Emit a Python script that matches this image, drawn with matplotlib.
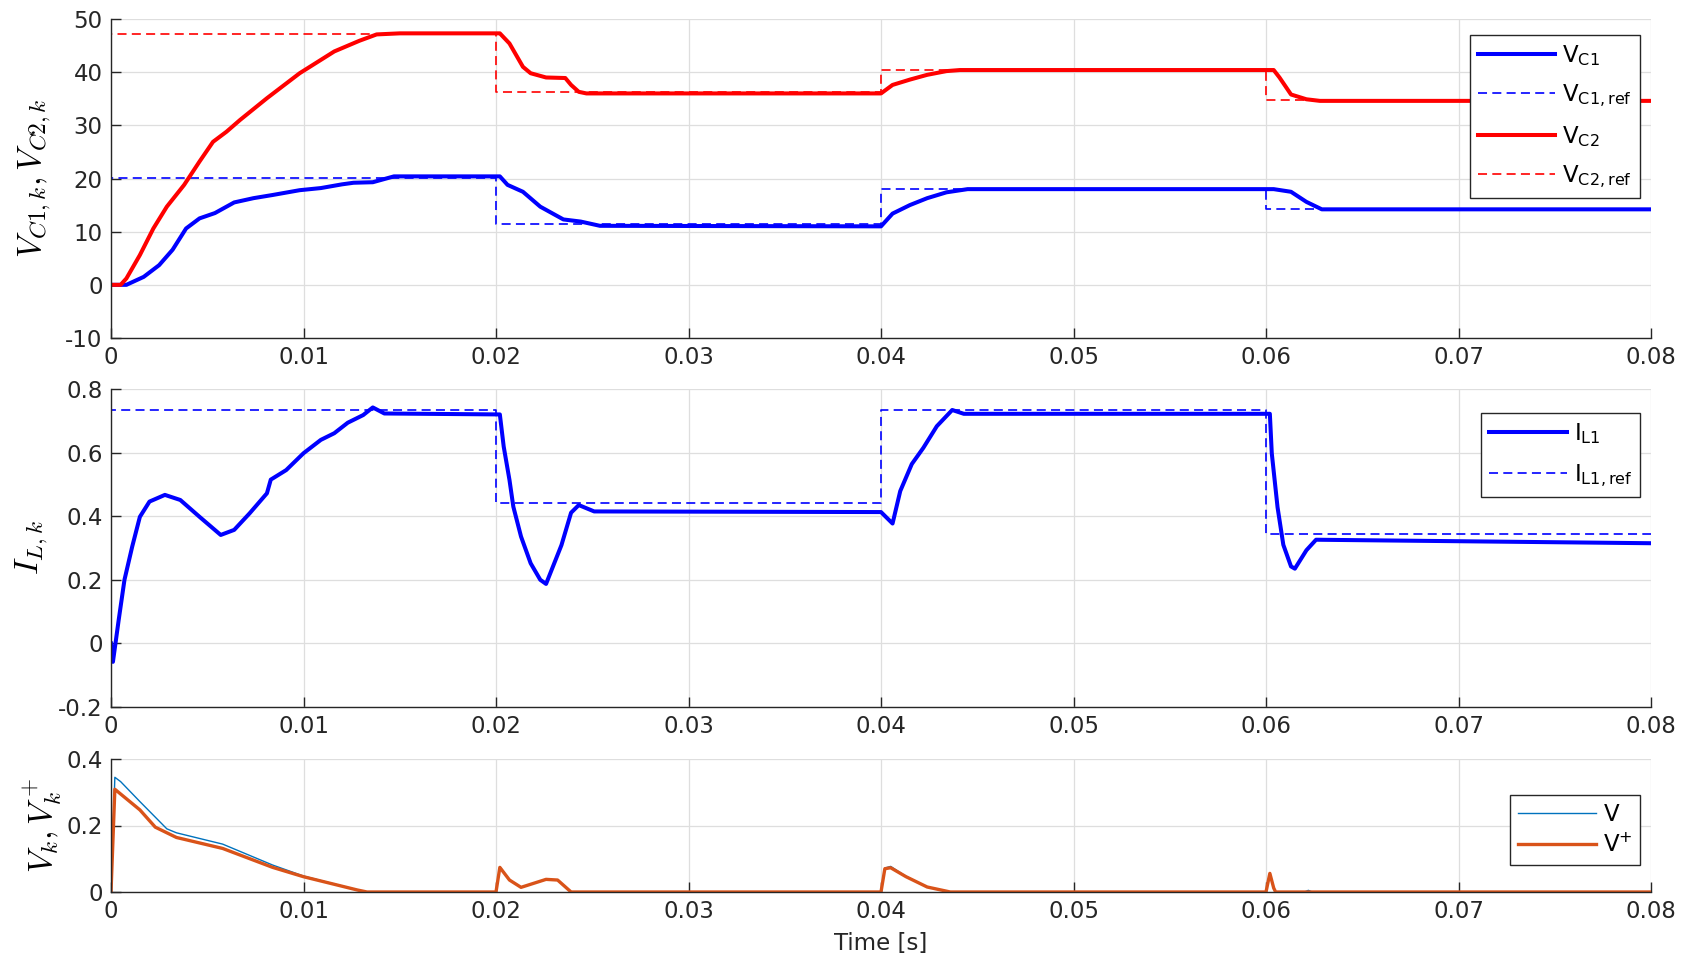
import matplotlib.pyplot as plt

# ---- top panel: capacitor voltages ----
t_vc1 = [0, 0.0008, 0.0017, 0.0025, 0.0032, 0.0039, 0.0046, 0.0054, 0.0064, 0.0074,
         0.0084, 0.0098, 0.0109, 0.0120, 0.0126, 0.0136, 0.0147, 0.0202, 0.0206, 0.0214,
         0.0223, 0.0235, 0.0244, 0.0254, 0.0400, 0.0406, 0.0415, 0.0424, 0.0434, 0.0445,
         0.0604, 0.0613, 0.0621, 0.0629, 0.08]
vc1 = [0, 0.0, 1.5, 3.7, 6.6, 10.6, 12.5, 13.5, 15.5, 16.3,
       16.9, 17.8, 18.2, 18.9, 19.2, 19.3, 20.4, 20.4, 18.8, 17.5,
       14.7, 12.3, 11.9, 11.1, 11.0, 13.4, 15.0, 16.3, 17.4, 18.0,
       18.0, 17.5, 15.6, 14.2, 14.2]

t_vc2 = [0, 0.0005, 0.0008, 0.0015, 0.0022, 0.0029, 0.0038, 0.0046, 0.0053, 0.0060,
         0.0067, 0.0081, 0.0098, 0.0116, 0.0129, 0.0138, 0.0150, 0.0202, 0.0207, 0.0214,
         0.0218, 0.0226, 0.0236, 0.0239, 0.0243, 0.0247, 0.0400, 0.0406, 0.0415, 0.0424,
         0.0434, 0.0441, 0.0604, 0.0607, 0.0613, 0.0621, 0.0628, 0.08]
vc2 = [0, 0, 1.2, 5.6, 10.6, 14.7, 18.8, 23.2, 26.9, 28.8,
       31.0, 35.1, 39.8, 43.9, 45.9, 47.1, 47.3, 47.3, 45.4, 41.0,
       39.8, 39.0, 38.9, 37.6, 36.3, 36.0, 36.0, 37.6, 38.6, 39.5,
       40.2, 40.4, 40.4, 39.0, 35.8, 34.9, 34.6, 34.6]

ref_t = [0, 0.02, 0.04, 0.06, 0.08]
vc1_ref = [20.1, 11.4, 18.0, 14.3]
vc2_ref = [47.1, 36.2, 40.5, 34.7]

# ---- middle panel: inductor current ----
t_il = [0, 0.0001, 0.0004, 0.0007, 0.0011, 0.0015, 0.0020, 0.0028, 0.0036, 0.0046,
        0.0057, 0.0064, 0.0072, 0.0081, 0.0083, 0.0091, 0.0100, 0.0109, 0.0116, 0.0123,
        0.0131, 0.0136, 0.0142, 0.0202, 0.0204, 0.0207, 0.0209, 0.0213, 0.0218, 0.0223,
        0.0226, 0.0234, 0.0239, 0.0243, 0.0251, 0.0400, 0.0406, 0.0410, 0.0416, 0.0422,
        0.0429, 0.0437, 0.0443, 0.0602, 0.0603, 0.0606, 0.0609, 0.0613, 0.0615, 0.0621,
        0.0626, 0.08]
il = [0.0, -0.058, 0.074, 0.2, 0.304, 0.398, 0.446, 0.467, 0.451, 0.398,
      0.341, 0.357, 0.409, 0.472, 0.515, 0.545, 0.598, 0.64, 0.661, 0.694,
      0.718, 0.742, 0.723, 0.72, 0.619, 0.514, 0.43, 0.336, 0.252, 0.2,
      0.187, 0.309, 0.411, 0.435, 0.415, 0.413, 0.377, 0.479, 0.564, 0.615,
      0.683, 0.734, 0.722, 0.722, 0.598, 0.428, 0.31, 0.242, 0.235, 0.293,
      0.326, 0.315]
il_ref = [0.734, 0.442, 0.734, 0.344]

# ---- bottom panel: V and V+ ----
t_v = [0, 0.0002, 0.0005, 0.0015, 0.0029, 0.0034, 0.0058, 0.0084, 0.0100, 0.0128,
       0.0133, 0.0200, 0.0202, 0.0207, 0.0213, 0.0226, 0.0232, 0.0239, 0.0400, 0.0402,
       0.0405, 0.0413, 0.0424, 0.0436, 0.0600, 0.0602, 0.0604, 0.0605, 0.0620, 0.0622,
       0.0624, 0.08]
v = [0, 0.345, 0.332, 0.272, 0.19, 0.178, 0.144, 0.081, 0.048, 0.006,
     0, 0, 0.076, 0.036, 0.014, 0.038, 0.036, 0, 0, 0.072,
     0.077, 0.047, 0.015, 0, 0, 0.058, 0.012, 0, 0, 0.005,
     0, 0]
t_vp = [0, 0.0002, 0.0015, 0.0023, 0.0034, 0.0058, 0.0084, 0.0100, 0.0128, 0.0133,
        0.0200, 0.0202, 0.0207, 0.0213, 0.0226, 0.0232, 0.0239, 0.0400, 0.0402, 0.0405,
        0.0413, 0.0424, 0.0436, 0.0600, 0.0602, 0.0604, 0.0605, 0.08]
vp = [0, 0.309, 0.247, 0.195, 0.164, 0.131, 0.074, 0.046, 0.006, 0,
      0, 0.074, 0.036, 0.014, 0.038, 0.036, 0, 0, 0.070, 0.073,
      0.046, 0.015, 0, 0, 0.056, 0.012, 0, 0]

x_ticks = [0, 0.01, 0.02, 0.03, 0.04, 0.05, 0.06, 0.07, 0.08]
x_labels = ['0', '0.01', '0.02', '0.03', '0.04', '0.05', '0.06', '0.07', '0.08']

DARK = '#262626'
FS = 16.5
plt.rcParams['lines.scale_dashes'] = False


def steps(vals):
    return [0] + ref_t, [0] + vals + [vals[-1]]


def style(ax, yticks, ylabels):
    ax.set_xlim(0, 0.08)
    ax.set_xticks(x_ticks)
    ax.set_xticklabels(x_labels)
    ax.set_yticks(yticks)
    ax.set_yticklabels(ylabels)
    ax.set_ylim(yticks[0], yticks[-1])
    for s in ['top', 'right']:
        ax.spines[s].set_visible(False)
    for s in ['left', 'bottom']:
        ax.spines[s].set_color(DARK)
        ax.spines[s].set_linewidth(1.0)
    ax.tick_params(direction='in', length=7, width=1, colors=DARK, labelsize=FS, pad=6)
    ax.grid(True, color='#dedede', linewidth=0.9)
    ax.set_axisbelow(True)


def legend(ax, top, spacing):
    leg = ax.legend(loc='upper right', bbox_to_anchor=(0.993, top), fontsize=FS,
                    fancybox=False, edgecolor=DARK, framealpha=1, handlelength=3.4,
                    handletextpad=0.3, borderpad=0.35, labelspacing=spacing, borderaxespad=0)
    leg.get_frame().set_linewidth(1.0)


fig = plt.figure(figsize=(16.92, 9.61), dpi=100)
L, W = 111 / 1692, 1540 / 1692
ax1 = fig.add_axes([L, 1 - 338 / 961, W, 319 / 961])
ax2 = fig.add_axes([L, 1 - 707 / 961, W, 318 / 961])
ax3 = fig.add_axes([L, 1 - 892 / 961, W, 133 / 961])

# top
ax1.plot(t_vc1, vc1, color='b', lw=2.9, label=r'$\mathregular{V_{C1}}$')
x, y = steps(vc1_ref)
ax1.plot(x, y, color='b', lw=1.2, dashes=(6.5, 3.8), drawstyle='steps-post',
         label=r'$\mathregular{V_{C1,ref}}$')
ax1.plot(t_vc2, vc2, color='r', lw=2.9, label=r'$\mathregular{V_{C2}}$')
x, y = steps(vc2_ref)
ax1.plot(x, y, color='r', lw=1.2, dashes=(6.5, 3.8), drawstyle='steps-post',
         label=r'$\mathregular{V_{C2,ref}}$')
style(ax1, [-10, 0, 10, 20, 30, 40, 50], ['-10', '0', '10', '20', '30', '40', '50'])
ax1.set_ylabel(r'$V_{C1,k}, V_{C2,k}$', fontsize=24, math_fontfamily='cm', va='center')
ax1.yaxis.set_label_coords(-0.0494, 0.5)
legend(ax1, 0.950, 0.64)

# middle
ax2.plot(t_il, il, color='b', lw=2.9, label=r'$\mathregular{I_{L1}}$')
x, y = steps(il_ref)
ax2.plot(x, y, color='b', lw=1.2, dashes=(6.5, 3.8), drawstyle='steps-post',
         label=r'$\mathregular{I_{L1,ref}}$')
style(ax2, [-0.2, 0, 0.2, 0.4, 0.6, 0.8], ['-0.2', '0', '0.2', '0.4', '0.6', '0.8'])
ax2.set_ylabel(r'$I_{L,k}$', fontsize=24, math_fontfamily='cm', va='center')
ax2.yaxis.set_label_coords(-0.0513, 0.5)
legend(ax2, 0.9245, 0.72)

# bottom
ax3.plot(t_v, v, color='#0072BD', lw=1.0, label=r'$\mathregular{V}$')
ax3.plot(t_vp, vp, color='#D95319', lw=2.4, label=r'$\mathregular{V^{+}}$')
style(ax3, [0, 0.2, 0.4], ['0', '0.2', '0.4'])
ax3.set_ylabel(r'$V_k, V_k^+$', fontsize=24, math_fontfamily='cm', va='center')
ax3.yaxis.set_label_coords(-0.0445, 0.5)
ax3.set_xlabel('Time [s]', fontsize=FS, color=DARK, va='center')
ax3.xaxis.set_label_coords(0.5, -0.39)
legend(ax3, 0.729, 0.3)

fig.savefig('out.png', dpi=100)
